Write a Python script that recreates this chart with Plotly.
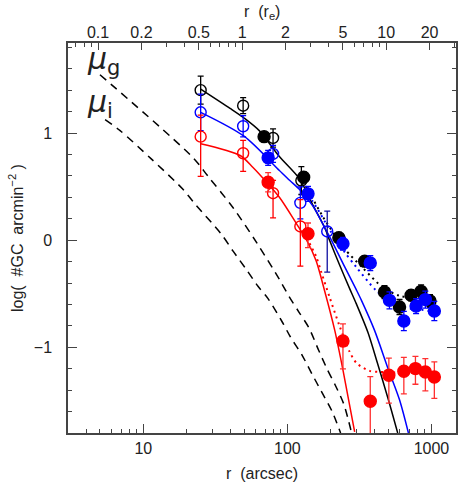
import plotly.graph_objects as go
import math

# ---------------- data ----------------
RE = 48.5  # arcsec per effective radius (top axis)

# open circles (inner sample)
r_blk_open = [25.0, 49.3, 79.5, 125.0]
v_blk_open = [1.40, 1.255, 0.954, 0.556]
e_blk_open = [0.13, 0.075, 0.085, 0.13]

r_blu_open = [25.0, 49.3, 79.5, 123.0]
v_blu_open = [1.193, 1.063, 0.805, 0.348]
e_blu_open = [0.17, 0.10, 0.08, 0.15]

r_blu_open2 = [189.0]
v_blu_open2 = [0.081]
e_blu_open2_up = [0.19]
e_blu_open2_dn = [0.38]

r_red_open = [25.0, 49.3, 79.5, 123.0]
v_red_open = [0.966, 0.811, 0.438, 0.128]
e_red_open_up = [0.20, 0.12, 0.12, 0.25]
e_red_open_dn = [0.37, 0.17, 0.23, 0.37]

# filled circles (outer sample)
r_blk_fill = [68.9, 129.7, 227.6, 344, 472, 600, 722, 847, 977]
v_blk_fill = [0.966, 0.587, 0.022, -0.196, -0.485, -0.624, -0.515, -0.478, -0.568]
e_blk_fill = [0.04, 0.05, 0.05, 0.05, 0.06, 0.07, 0.05, 0.06, 0.06]

r_blu_fill = [73.5, 139, 243, 376, 511, 643, 782, 907, 1047]
v_blu_fill = [0.768, 0.432, -0.034, -0.214, -0.562, -0.755, -0.615, -0.555, -0.662]
e_blu_fill = [0.07, 0.07, 0.06, 0.07, 0.08, 0.09, 0.07, 0.08, 0.09]

r_red_fill = [73.5, 139, 243, 376, 506, 643, 774, 907, 1047]
v_red_fill = [0.54, 0.06, -0.941, -1.503, -1.261, -1.224, -1.199, -1.23, -1.277]
e_red_fill_up = [0.09, 0.10, 0.16, 0.23, 0.16, 0.13, 0.115, 0.125, 0.14]
e_red_fill_dn = [0.09, 0.13, 0.26, 0.45, 0.26, 0.21, 0.146, 0.177, 0.20]

# fitted profiles (solid)
r_fit_blk = [25, 40, 50, 64, 88, 121.6, 150, 181, 196, 230, 270, 300, 362, 420, 500, 583]
v_fit_blk = [1.41, 1.23, 1.14, 1.02, 0.78, 0.57, 0.33, 0.12, 0.0, -0.23, -0.45, -0.59, -0.86, -1.14, -1.48, -1.80]

r_fit_blu = [25, 50, 88, 104, 122, 150, 186, 202, 250, 300, 326, 402, 500, 600, 692]
v_fit_blu = [1.193, 0.97, 0.65, 0.556, 0.47, 0.32, 0.09, 0.0, -0.25, -0.46, -0.56, -0.84, -1.20, -1.49, -1.80]

r_fit_red = [25, 47, 57.5, 67.5, 88, 116, 136, 158, 181, 213, 242, 293]
v_fit_red = [0.90, 0.79, 0.68, 0.58, 0.40, 0.15, 0.0, -0.19, -0.47, -0.84, -1.20, -1.79]

# fitted profiles + background (dotted)
r_bg_blk = [121.6, 142.6, 176, 213, 249, 334, 459, 600, 800, 1000]
v_bg_blk = [0.60, 0.44, 0.22, 0.05, -0.08, -0.26, -0.44, -0.52, -0.54, -0.55]

r_bg_blu = [122, 150, 200, 249, 300, 413, 520, 667, 850, 1050]
v_bg_blu = [0.50, 0.36, 0.08, -0.11, -0.25, -0.47, -0.57, -0.63, -0.65, -0.67]

r_bg_red = [136, 158, 172, 196, 230, 270, 303, 372, 436, 600, 1050]
v_bg_red = [0.02, -0.15, -0.30, -0.53, -0.80, -1.04, -1.15, -1.22, -1.23, -1.235, -1.24]

# galaxy light profiles (dashed)
r_mu_g = [5.0, 22.1, 28.2, 42.0, 61.5, 87.4, 102.6, 120.2, 141, 164.8, 188, 215, 245.5, 265.8, 279]
v_mu_g = [1.544, 0.771, 0.594, 0.302, -0.028, -0.36, -0.525, -0.671, -0.818, -1.028, -1.199, -1.354, -1.525, -1.687, -1.80]

r_mu_i = [5.43, 6.9, 11.3, 18.7, 22.8, 34.9, 42.0, 52.0, 62.5, 73.4, 92.1, 105, 126.6, 148.5, 174, 204, 234]
v_mu_i = [1.125, 1.022, 0.761, 0.479, 0.339, 0.053, -0.103, -0.276, -0.431, -0.546, -0.764, -0.904, -1.075, -1.252, -1.424, -1.597, -1.80]

x_major = [10, 100, 1000]
x_major_text = ["10", "100", "1000"]
x_minor = [4, 5, 6, 7, 8, 9, 20, 30, 40, 50, 60, 70, 80, 90, 200, 300, 400, 500, 600, 700, 800, 900]
top_major = [0.1, 0.2, 0.5, 1, 2, 5, 10, 20]
top_major_text = ["0.1", "0.2", "0.5", "1", "2", "5", "10", "20"]
top_minor = [0.07, 0.08, 0.09, 0.3, 0.4, 0.6, 0.7, 0.8, 0.9, 3, 4, 6, 7, 8, 9, 30]
y_major = [-1, 0, 1]
y_major_text = ["\u22121", "0", "1"]
y_minor = [-1.6, -1.4, -1.2, -0.8, -0.6, -0.4, -0.2, 0.2, 0.4, 0.6, 0.8, 1.2, 1.4, 1.6, 1.8]

X_RANGE = [3.0, 1480.0]
Y_RANGE = [-1.8, 1.84]

BLACK = "#000000"
BLUE = "#0000ff"
RED = "#ff0000"
FONT = "Liberation Sans"
AXC = "#444444"
TXT = "#222222"

fig = go.Figure()

def line(r, v, color, dash, width=1.5):
    fig.add_trace(go.Scatter(x=r, y=v, mode="lines",
                             line=dict(color=color, dash=dash, width=width, shape="spline", smoothing=0.8),
                             showlegend=False, hoverinfo="skip"))

line(r_mu_g, v_mu_g, BLACK, "8px,6px", 1.5)
line(r_mu_i, v_mu_i, BLACK, "8px,6px", 1.5)
line(r_bg_blk, v_bg_blk, BLACK, "2px,4px", 2)
line(r_bg_blu, v_bg_blu, BLUE, "2px,4px", 2)
line(r_bg_red, v_bg_red, RED, "2px,4px", 2)
line(r_fit_blk, v_fit_blk, BLACK, "solid", 1.5)
line(r_fit_blu, v_fit_blu, BLUE, "solid", 1.5)
line(r_fit_red, v_fit_red, RED, "solid", 1.5)

def pts(r, v, up, dn, color, symbol, ecolor=None, size=11):
    fig.add_trace(go.Scatter(
        x=r, y=v, mode="markers",
        marker=dict(symbol=symbol, size=size, color=color, line=dict(color=color, width=1.4)),
        error_y=dict(type="data", symmetric=False, array=up, arrayminus=dn,
                     color=ecolor or color, thickness=1.3, width=3),
        showlegend=False, hoverinfo="skip"))

pts(r_blk_open, v_blk_open, e_blk_open, e_blk_open, BLACK, "circle-open")
pts(r_blu_open, v_blu_open, e_blu_open, e_blu_open, BLUE, "circle-open")
pts(r_red_open, v_red_open, e_red_open_up, e_red_open_dn, RED, "circle-open")
pts(r_blu_open2, v_blu_open2, e_blu_open2_up, e_blu_open2_dn, BLUE, "circle-open", ecolor="#1010a0")
pts(r_blk_fill, v_blk_fill, e_blk_fill, e_blk_fill, BLACK, "circle", size=12)
pts(r_blu_fill, v_blu_fill, e_blu_fill, e_blu_fill, BLUE, "circle", size=12)
pts(r_red_fill, v_red_fill, e_red_fill_up, e_red_fill_dn, RED, "circle", ecolor="#ff3030", size=12)

# dummy trace for top axis
fig.add_trace(go.Scatter(x=[1], y=[0], xaxis="x2", mode="markers", marker=dict(opacity=0),
                         showlegend=False, hoverinfo="skip"))

lx = [math.log10(X_RANGE[0]), math.log10(X_RANGE[1])]
lre = math.log10(RE)

tickfont = dict(family=FONT, size=16, color=TXT)
titlefont = dict(family=FONT, size=16, color=TXT)

fig.update_layout(
    width=458, height=482,
    margin=dict(l=68, r=2, t=43, b=49),
    paper_bgcolor="white", plot_bgcolor="white",
    font=dict(family=FONT, color=TXT),
    xaxis=dict(type="log", range=lx, tickvals=x_major, ticktext=x_major_text, automargin=False,
               ticks="inside", ticklen=9, tickwidth=1.2, tickcolor=AXC,
               minor=dict(tickvals=x_minor, ticks="inside", ticklen=4, tickwidth=1.2, tickcolor=AXC, showgrid=False),
               showline=True, linecolor=AXC, linewidth=1.5, showgrid=False, zeroline=False,
               tickfont=tickfont, ticklabelstandoff=0),
    xaxis2=dict(type="log", range=[lx[0] - lre, lx[1] - lre], overlaying="x", side="top", automargin=False,
                tickvals=top_major, ticktext=top_major_text,
                ticks="inside", ticklen=7, tickwidth=1.2, tickcolor=AXC,
                minor=dict(tickvals=top_minor, ticks="inside", ticklen=4, tickwidth=1.2, tickcolor=AXC, showgrid=False),
                showline=True, linecolor=AXC, linewidth=1.5, showgrid=False, zeroline=False,
                tickfont=tickfont, ticklabelstandoff=-3),
    yaxis=dict(range=Y_RANGE, tickvals=y_major, ticktext=y_major_text, automargin=False,
               ticks="inside", ticklen=9, tickwidth=1.2, tickcolor=AXC,
               minor=dict(tickvals=y_minor, ticks="inside", ticklen=4, tickwidth=1.2, tickcolor=AXC, showgrid=False),
               showline=True, linecolor=AXC, linewidth=1.5, mirror="ticks", showgrid=False, zeroline=False,
               tickfont=tickfont, ticklabelstandoff=11),
    annotations=[
        dict(text="r  (arcsec)", xref="paper", yref="paper", x=0.5, y=-0.103,
             xanchor="center", yanchor="middle", showarrow=False, font=titlefont),
        dict(text="r  (r<sub>e</sub>)", xref="paper", yref="paper", x=0.5, y=1.077,
             xanchor="center", yanchor="middle", showarrow=False, font=titlefont),
        dict(text="log(  #GC  arcmin<sup>\u22122</sup> )", xref="paper", yref="paper", x=-0.134, y=0.5,
             xanchor="center", yanchor="middle", textangle=-90, showarrow=False, font=titlefont),
        dict(text="<i>\u03bc</i><sub>g</sub>", xref="paper", yref="paper", x=0.045, y=0.955,
             xanchor="left", yanchor="middle", showarrow=False, font=dict(family="DejaVu Sans", size=30, color=TXT)),
        dict(text="<i>\u03bc</i><sub>i</sub>", xref="paper", yref="paper", x=0.045, y=0.845,
             xanchor="left", yanchor="middle", showarrow=False, font=dict(family="DejaVu Sans", size=30, color=TXT)),
    ],
)

fig.write_html("out.html", config={"displayModeBar": False},
               post_script="document.body.style.margin='0';document.body.style.padding='0';"
                           "document.documentElement.style.overflow='hidden';")
